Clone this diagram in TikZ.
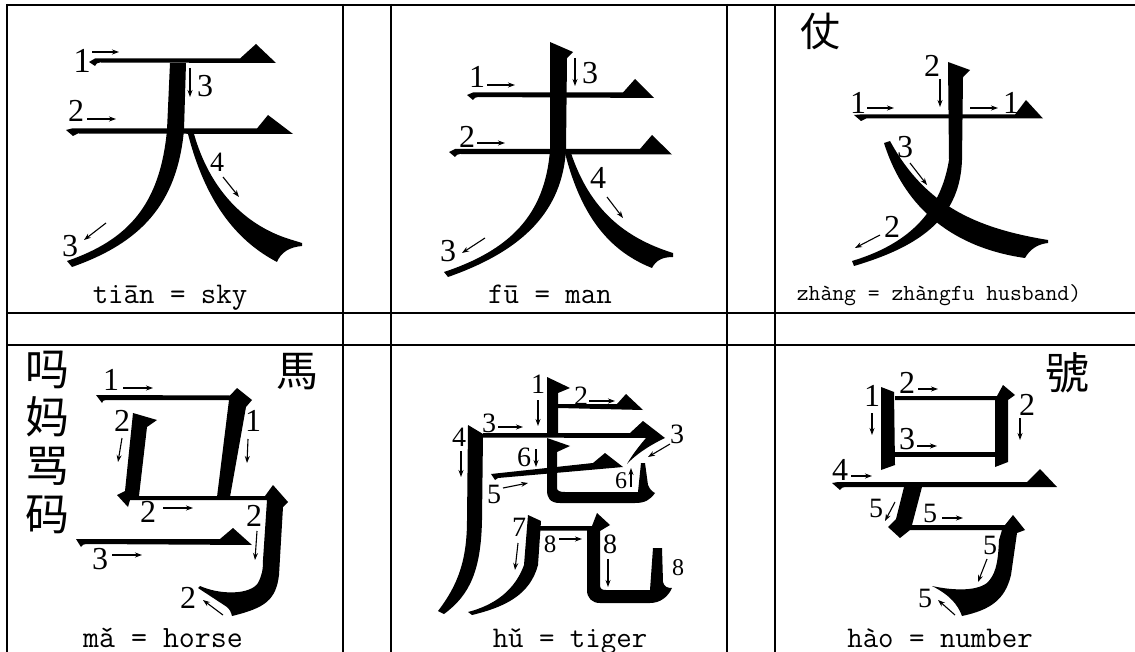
\documentclass[tikz,border=0pt]{standalone}
\usepackage{fontspec}
\newfontfamily\cjk{Noto Sans CJK SC}
\newfontfamily\dig{Liberation Serif}
\usetikzlibrary{arrows.meta}
\tikzset{
  grid/.style={line width=2pt},
  stk/.style={fill=black},
  lab/.style={inner sep=0pt, font=\dig\fontsize{32}{32}\selectfont},
  sml/.style={inner sep=0pt, font=\dig\fontsize{28}{28}\selectfont},
  arr/.style={line width=1.1pt, -{Stealth[length=7pt,width=5pt]}},
  capt/.style={inner sep=0pt, anchor=base, font=\ttfamily\fontsize{30}{30}\selectfont},
  han/.style={inner sep=0pt, font=\cjk\fontsize{42}{42}\selectfont},
}
\begin{document}
\begin{tikzpicture}[x=1pt,y=-1pt]
\useasboundingbox (0,0) rectangle (1135,652);
% ---------- grid ----------
\draw[grid] (6,5) -- (1135,5);
\draw[grid] (6,313) -- (1135,313);
\draw[grid] (6,345) -- (1135,345);
\foreach \gx in {7,343,391,727,774.5} \draw[grid] (\gx,4) -- (\gx,652);

% ================= 天 =================
\fill[stk] (89,62) -- (95,58.5) -- (240,58.5) -- (256,44) -- (276,63) -- (100,62.5) .. controls (97,63) .. (95,66) -- cycle;
\fill[stk] (66,130) -- (72,128.5) -- (257,128.5) -- (268,115) -- (293,134) -- (78,133.5) .. controls (75,134) .. (73,136) -- cycle;
\fill[stk] (170,63) -- (167,130) .. controls (160,205) and (128,240) .. (67,261) -- (72,267) .. controls (140,243) and (177,205) .. (184,130) -- (186,63) -- cycle;
\fill[stk] (188,134) .. controls (205,200) and (235,240) .. (277,262) .. controls (281,252) and (290,247) .. (302,246) -- (302,243) -- (289,239) .. controls (245,225) and (210,190) .. (194,134) -- cycle;
\node[lab, font=\dig\fontsize{35}{35}\selectfont] (t1) at (82,61) {1};
\draw[arr] (92,52) -- (119,52);
\node[lab] (t3a) at (205,86) {3};
\draw[arr] (190,68) -- (190,97);
\node[lab] (t2) at (76,111) {2};
\draw[arr] (87,119) -- (116,119);
\node[lab, font=\dig\fontsize{28}{28}\selectfont] (t4) at (217,162) {4};
\draw[arr] (223,177) -- (239,197);
\node[lab] (t3b) at (70,246) {3};
\draw[arr] (106,223) -- (84,240);
\node[capt] (tcap) at (170,304) {tiān = sky};

% ================= 夫 =================
\fill[stk] (467,95) -- (473,92.5) -- (623,92.5) -- (635,79) -- (654,98) -- (478,97) .. controls (475,97.5) .. (473,100) -- cycle;
\fill[stk] (449,152) -- (455,149) -- (640,149) -- (652,135) -- (672,154.5) -- (460,154) .. controls (457,154.5) .. (455,157) -- cycle;
\fill[stk] (550,42) -- (573,52) -- (567,58) -- (566,150) .. controls (562,210) and (525,250) .. (448,277) -- (444,272) .. controls (510,250) and (545,215) .. (550,150) -- cycle;
\fill[stk] (565,153) .. controls (582,220) and (612,252) .. (652,268) .. controls (656,260) and (663,257) .. (673,257) -- (673,253) .. controls (625,238) and (590,210) .. (571,153) -- cycle;
\node[lab] (f1) at (477,77) {1};
\draw[arr] (487,85) -- (515,85);
\node[lab] (f2) at (467,137) {2};
\draw[arr] (477,143) -- (505,143);
\draw[arr] (575,58) -- (575,86);
\node[lab] (f3a) at (590,73) {3};
\node[lab] (f4) at (598,178) {4};
\draw[arr] (607,197) -- (623,218);
\node[lab] (f3b) at (448,251) {3};
\draw[arr] (485,238) -- (462,253);
\node[capt] (fcap) at (550,304) {fū = man};

% ================= 丈 =================
\node[han, font=\cjk\fontsize{40}{40}\selectfont] (zv) at (820,31) {仗};
\fill[stk] (854,115) -- (860,114.5) -- (1015,114.5) -- (1026,100) -- (1043,118.5) -- (866,118.5) .. controls (863,119) .. (861,121) -- cycle;
\fill[stk] (948,62) -- (970,70) -- (963,77) -- (962,160) .. controls (960,215) and (925,245) .. (854,266) -- (852,261) .. controls (905,245) and (940,215) .. (949,160) -- cycle;
\fill[stk] (884,143) .. controls (905,210) and (955,248) .. (1025,258) .. controls (1030,249) and (1038,244) .. (1048,243) -- (1048,240) .. controls (975,228) and (925,205) .. (890,141) -- cycle;
\node[lab] (z1a) at (858,103) {1};
\draw[arr] (867,108) -- (894,108);
\node[lab] (z2a) at (932,66) {2};
\draw[arr] (940,79) -- (940,107);
\draw[arr] (970,108) -- (998,108);
\node[lab] (z1b) at (1011,103) {1};
\node[lab] (z3) at (905,147) {3};
\draw[arr] (910,163) -- (927,185);
\node[lab] (z2b) at (892,227) {2};
\draw[arr] (880,235) -- (855,248);
\node[capt, font=\ttfamily\fontsize{23}{23}\selectfont] (zcap) at (939,301) {zhàng = zhàngfu husband)};

% ================= 马 =================
\node[han, font=\cjk\fontsize{44}{44}\selectfont] (m1) at (47,370) {吗};
\node[han, font=\cjk\fontsize{44}{44}\selectfont] (m2) at (47,417) {妈};
\node[han, font=\cjk\fontsize{44}{44}\selectfont] (m3) at (47,466) {骂};
\node[han, font=\cjk\fontsize{44}{44}\selectfont] (m4) at (47,515) {码};
\node[han] (mt) at (297,372) {馬};
\fill[stk] (96,395) -- (230,395.5) -- (237,388) -- (252,400) -- (246,407) -- (230,497) -- (217,497) -- (229,400) -- (106,400) .. controls (103,400.5) .. (102,403) -- cycle;
\fill[stk] (133,413) -- (157,420) -- (147,427) -- (139,496) -- (265,496) -- (273,485) -- (288,502) -- (283,507) -- (279,575) .. controls (276,600) and (265,608) .. (232,616) .. controls (231,612) and (230,610) .. (227,607) -- (198,588) -- (200,586) .. controls (220,595) and (250,595) .. (258,583) .. controls (262,575) and (263,570) .. (263,560) -- (267,500) -- (130,500) -- (128,507) -- (117,495) -- (125,491) -- cycle;
\fill[stk] (76,539) -- (82,539) -- (220,539) -- (233,528) -- (252,545) -- (86,544) .. controls (83,544.5) .. (81,547) -- cycle;
\node[lab] (ma1) at (111,380) {1};
\draw[arr] (123,388) -- (153,388);
\node[lab] (ma2) at (122,421) {2};
\draw[arr] (122,438) -- (118,462);
\node[lab] (ma1b) at (253,421) {1};
\draw[arr] (248,439) -- (247,463);
\node[lab] (ma2b) at (148,512) {2};
\draw[arr] (163,508) -- (193,508);
\node[lab] (ma2c) at (254,516) {2};
\draw[arr] (257,531) -- (255,560);
\node[lab] (ma3) at (100,559) {3};
\draw[arr] (112,555) -- (142,555);
\node[lab] (ma2d) at (188,598) {2};
\draw[arr] (223,615) -- (203,600);
\node[capt, font=\ttfamily\fontsize{31}{31}\selectfont] (mcap) at (163,647) {mǎ = horse};

% ================= 虎 =================
\fill[stk] (547,377) -- (570,388) -- (558,393) -- (558,435) -- (547,435) -- cycle;
\fill[stk] (558,404) -- (617,404) -- (626,394) -- (643,410) -- (558,408) -- cycle;
\fill[stk] (483,433) -- (630,433) -- (643,421) -- (665,438) .. controls (650,445) and (635,455) .. (627,464) .. controls (632,455) and (640,445) .. (646,438) -- (483,437.5) -- cycle;
\fill[stk] (468,425) -- (483,434) -- (482,520) .. controls (481,570) and (470,595) .. (444,614) -- (438,611) .. controls (458,585) and (467,560) .. (467,520) -- cycle;
\fill[stk] (491,474) -- (593,463) -- (605,453) -- (623,467) -- (498,478) .. controls (496,478.5) .. (495,480) -- cycle;
\fill[stk] (547,438) -- (570,446) -- (557,452) -- (557,488) .. controls (557,491) and (560,492) .. (565,492) -- (638,492) -- (641,463) -- (645,463) -- (648,485) .. controls (650,490) and (653,492) .. (655,493) .. controls (650,500) and (645,503) .. (635,503) -- (560,503) .. controls (550,503) and (547,498) .. (547,490) -- cycle;
\fill[stk] (528,515) -- (541,521) -- (538,565) .. controls (530,595) and (505,607) .. (472,615) -- (468,612) .. controls (495,605) and (515,590) .. (524,565) -- cycle;
\fill[stk] (540,526) -- (592,526) -- (597,513) -- (610,525) -- (600,531) -- (600,585) .. controls (600,589) and (602,590) .. (606,590) -- (650,590) -- (653,548) -- (662,548) -- (663,582) .. controls (664,587) and (668,588) .. (672,588) .. controls (668,597) and (660,603) .. (650,603) -- (600,603) .. controls (592,603) and (587,598) .. (587,590) -- (587,530.5) -- (540,530.5) -- cycle;
\node[sml] (h1) at (538,384) {1};
\draw[arr] (538,400) -- (538,426);
\node[sml] (h2) at (581,396) {2};
\draw[arr] (589,401) -- (615,401);
\node[sml] (h3a) at (489,423) {3};
\draw[arr] (498,427) -- (523,427);
\node[sml] (h3b) at (677,434) {3};
\draw[arr] (670,444) -- (648,457);
\node[sml] (h4) at (459,437) {4};
\draw[arr] (461,451) -- (461,477);
\node[sml] (h6a) at (524,457) {6};
\draw[arr] (536,449) -- (536,467);
\node[sml] (h5) at (494,494) {5};
\draw[arr] (503,488) -- (528,483);
\node[sml, font=\dig\fontsize{24}{24}\selectfont] (h6b) at (621,481) {6};
\draw[arr] (631,487) -- (631,468);
\node[sml] (h7) at (519,527) {7};
\draw[arr] (518,543) -- (515,570);
\node[sml, font=\dig\fontsize{25}{25}\selectfont] (h8a) at (550,544) {8};
\draw[arr] (559,539) -- (582,539);
\node[sml] (h8b) at (610,544) {8};
\draw[arr] (608,559) -- (608,587);
\node[sml, font=\dig\fontsize{24}{24}\selectfont] (h8c) at (678,568) {8};
\node[capt] (hcap) at (570,647) {hǔ = tiger};

% ================= 号 =================
\node[han, font=\cjk\fontsize{44}{44}\selectfont] (hv) at (1067,373) {號};
\fill[stk] (881,387) -- (894,392) -- (895,465) -- (881,470) -- cycle;
\fill[stk] (895,396) -- (997,396) -- (1003,385) -- (1015,395) -- (1008,400) -- (1008,462) -- (995,467) -- (995,400) -- (895,400) -- cycle;
\fill[stk] (895,452) -- (995,452) -- (995,457) -- (895,457) -- cycle;
\fill[stk] (832,483) -- (838,482) -- (1027,482) -- (1040,469) -- (1057,487) -- (845,487) .. controls (842,487.5) .. (840,490) -- cycle;
\fill[stk] (904,487) -- (922,487) -- (912,525) -- (1005,525) -- (1013,515) -- (1025,530) -- (1017,533) -- (1011,575) .. controls (1005,600) and (990,610) .. (962,616) .. controls (958,605) and (950,595) .. (932,586) .. controls (950,590) and (975,592) .. (987,583) .. controls (995,575) and (998,565) .. (999,540) -- (1002,530) -- (910,530) -- (900,538) -- (888,527) -- (896,519) -- cycle;
\node[lab] (n1) at (872,396) {1};
\draw[arr] (872,413) -- (872,435);
\node[lab] (n2a) at (907,383) {2};
\draw[arr] (918,389) -- (938,389);
\node[lab] (n2b) at (1027,405) {2};
\draw[arr] (1020,418) -- (1020,440);
\node[lab] (n3) at (907,439) {3};
\draw[arr] (917,446) -- (937,446);
\node[lab] (n4) at (840,470) {4};
\draw[arr] (851,476) -- (872,476);
\node[sml] (n5a) at (876,508) {5};
\draw[arr] (895,502) -- (885,521);
\node[sml] (n5b) at (930,513) {5};
\draw[arr] (942,518) -- (963,518);
\node[sml] (n5c) at (990,545) {5};
\draw[arr] (987,559) -- (978,582);
\node[sml] (n5d) at (925,598) {5};
\draw[arr] (955,615) -- (938,600);
\node[capt] (ncap) at (940,647) {hào = number};
\end{tikzpicture}
\end{document}
